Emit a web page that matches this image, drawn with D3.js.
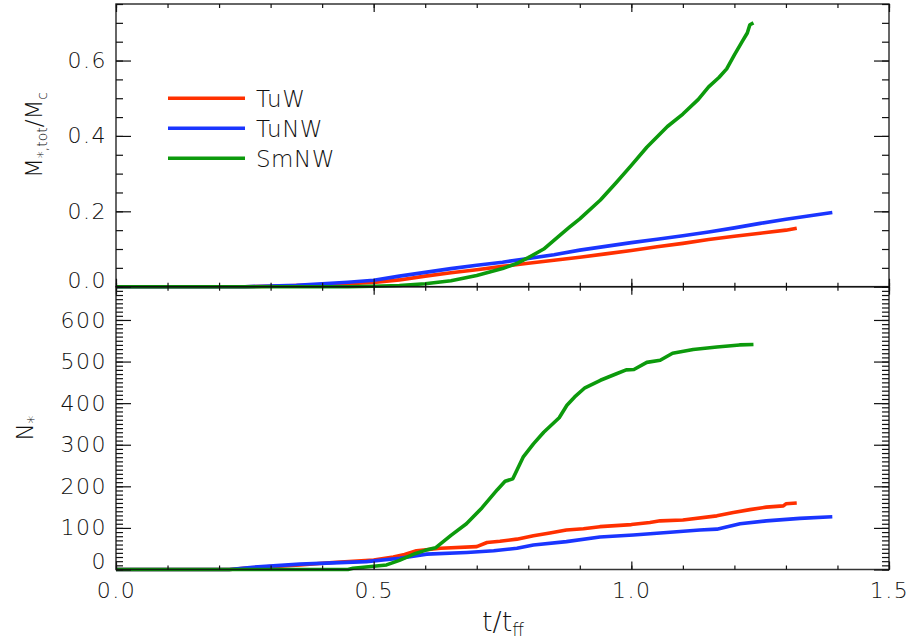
<!DOCTYPE html>
<html>
<head>
<meta charset="utf-8">
<script src="https://cdn.jsdelivr.net/npm/d3@7"></script>
<style>
  html, body { margin: 0; padding: 0; background: #fff; }
  svg { display: block; }
  text { font-family: "DejaVu Sans", sans-serif; font-weight: 200; fill: #111; }
</style>
</head>
<body>
<svg id="chart" width="911" height="640"></svg>
<script>
// Series names and colours
const seriesNames = ["TuW", "TuNW", "SmNW"];
const seriesColors = ["#ff3000", "#1a35ff", "#0c9a0c"];

// Total stellar mass fraction M*,tot/Mc against t/tff
const tuwMass = [[0,0],[0.25,0],[0.30,0.001],[0.35,0.003],[0.40,0.005],[0.45,0.008],[0.50,0.011],[0.55,0.018],[0.60,0.028],[0.65,0.037],[0.70,0.045],[0.75,0.054],[0.80,0.062],[0.85,0.070],[0.90,0.078],[0.95,0.087],[1.00,0.096],[1.05,0.106],[1.10,0.115],[1.15,0.125],[1.20,0.134],[1.25,0.142],[1.30,0.150],[1.321,0.155]];
const tunwMass = [[0,0],[0.25,0],[0.30,0.002],[0.35,0.004],[0.40,0.008],[0.45,0.012],[0.50,0.017],[0.55,0.028],[0.60,0.038],[0.65,0.048],[0.70,0.057],[0.75,0.065],[0.80,0.075],[0.85,0.085],[0.90,0.097],[0.95,0.107],[1.00,0.117],[1.05,0.126],[1.10,0.135],[1.15,0.145],[1.20,0.156],[1.25,0.168],[1.30,0.179],[1.35,0.189],[1.39,0.197]];
const smnwMass = [[0,0],[0.45,0],[0.50,0.001],[0.55,0.003],[0.60,0.008],[0.65,0.016],[0.70,0.030],[0.75,0.048],[0.78,0.063],[0.80,0.077],[0.83,0.100],[0.86,0.135],[0.88,0.158],[0.90,0.180],[0.94,0.230],[0.97,0.275],[1.00,0.322],[1.03,0.370],[1.07,0.425],[1.10,0.458],[1.13,0.497],[1.15,0.530],[1.17,0.555],[1.185,0.578],[1.20,0.615],[1.215,0.650],[1.225,0.673],[1.23,0.695],[1.237,0.700]];

// Number of stars N* against t/tff
const tuwCount = [[0,0],[0.22,0],[0.26,4],[0.30,7],[0.357,11],[0.42,17],[0.50,23],[0.538,30],[0.56,36],[0.583,45],[0.63,51],[0.70,55],[0.72,65],[0.745,68],[0.778,73],[0.81,81],[0.842,88],[0.874,95],[0.907,98],[0.939,103],[1.00,108],[1.036,113],[1.056,117],[1.10,119],[1.166,129],[1.198,137],[1.23,144],[1.262,150],[1.295,153],[1.30,158],[1.321,160]];
const tunwCount = [[0,0],[0.22,0],[0.26,5],[0.357,13],[0.486,19],[0.551,27],[0.603,37],[0.681,41],[0.733,45],[0.778,51],[0.81,59],[0.874,67],[0.939,78],[1.004,83],[1.069,89],[1.133,95],[1.166,97],[1.211,110],[1.262,117],[1.327,123],[1.39,127]];
const smnwCount = [[0,0],[0.45,0],[0.46,3],[0.50,8],[0.525,11],[0.55,22],[0.58,38],[0.60,46],[0.62,52],[0.65,82],[0.68,110],[0.71,148],[0.74,192],[0.755,212],[0.77,218],[0.79,270],[0.81,302],[0.83,330],[0.86,365],[0.875,395],[0.89,415],[0.91,437],[0.94,455],[0.97,470],[0.99,480],[1.005,481],[1.03,498],[1.056,503],[1.08,520],[1.12,529],[1.166,535],[1.21,540],[1.237,541]];

// Tick values
const xMajorTicks = [0, 0.5, 1.0, 1.5];
const xMinorTicks = d3.range(0, 15.5, 1).map(d => d / 10);
const massMajorTicks = [0, 0.2, 0.4, 0.6];
const massMinorTicks = d3.range(0, 16, 1).map(d => d * 0.05);
const countMajorTicks = [0, 100, 200, 300, 400, 500, 600];
const countMinorTicks = d3.range(0, 690, 10);

const plotLeft = 116, plotRight = 889, plotTop = 4, plotMid = 286.7, plotBottom = 569.5;
const svg = d3.select("#chart");

const x = d3.scaleLinear().domain([0, 1.5]).range([plotLeft, plotRight]);
const yMass = d3.scaleLinear().domain([0, 0.75]).range([plotMid, plotTop]);
const yCount = d3.scaleLinear().domain([0, 680]).range([plotBottom, plotMid]);

function strip(g) { g.select(".domain").remove(); g.selectAll(".tick line").attr("stroke", "#111").attr("stroke-width", 1.2); }

function drawPanel(yScale, yTop, yBottom, majors, minors, fmt, series, withXLabels, zeroLift) {
  const g = svg.append("g");
  // data lines
  const line = d3.line().x(d => x(d[0])).y(d => yScale(d[1]));
  series.forEach((s, i) => {
    g.append("path").datum(s)
      .attr("fill", "none").attr("stroke", seriesColors[i])
      .attr("stroke-width", 3.6).attr("stroke-linejoin", "round")
      .attr("d", line);
  });
  // frame
  g.append("rect").attr("x", plotLeft).attr("y", yTop).attr("width", plotRight - plotLeft).attr("height", yBottom - yTop)
    .attr("fill", "none").attr("stroke", "#111").attr("stroke-opacity", 0.85).attr("stroke-width", 1.5);
  // left axis
  g.append("g").attr("transform", `translate(${plotLeft},0)`)
    .call(d3.axisLeft(yScale).tickValues(minors).tickSizeInner(-7).tickSizeOuter(0).tickFormat(""))
    .call(strip);
  const yl = g.append("g").attr("class", "ylab").attr("transform", `translate(${plotLeft},0)`)
    .call(d3.axisLeft(yScale).tickValues(majors).tickSizeInner(-15).tickSizeOuter(0).tickPadding(9).tickFormat(fmt))
    .call(strip);
  // the lowest label sits a little above its tick, clear of the panel edge
  yl.selectAll(".tick").filter(d => d === 0).select("text").attr("y", -zeroLift);
  // right axis
  g.append("g").attr("transform", `translate(${plotRight},0)`)
    .call(d3.axisRight(yScale).tickValues(minors).tickSizeInner(-7).tickSizeOuter(0).tickFormat(""))
    .call(strip);
  g.append("g").attr("transform", `translate(${plotRight},0)`)
    .call(d3.axisRight(yScale).tickValues(majors).tickSizeInner(-15).tickSizeOuter(0).tickFormat(""))
    .call(strip);
  // top and bottom x ticks
  g.append("g").attr("transform", `translate(0,${yTop})`)
    .call(d3.axisTop(x).tickValues(xMinorTicks).tickSizeInner(-4).tickSizeOuter(0).tickFormat(""))
    .call(strip);
  g.append("g").attr("transform", `translate(0,${yTop})`)
    .call(d3.axisTop(x).tickValues(xMajorTicks).tickSizeInner(-8).tickSizeOuter(0).tickFormat(""))
    .call(strip);
  g.append("g").attr("transform", `translate(0,${yBottom})`)
    .call(d3.axisBottom(x).tickValues(xMinorTicks).tickSizeInner(-4).tickSizeOuter(0).tickFormat(""))
    .call(strip);
  g.append("g").attr("class", "xlab").attr("transform", `translate(0,${yBottom})`)
    .call(d3.axisBottom(x).tickValues(xMajorTicks).tickSizeInner(-8).tickSizeOuter(0).tickPadding(13)
      .tickFormat(withXLabels ? d3.format(".1f") : ""))
    .call(strip);
  g.selectAll(".ylab text, .xlab text").attr("font-size", 22).attr("letter-spacing", 1.5)
    .attr("font-family", null).attr("fill", "#111");
  return g;
}

drawPanel(yMass, plotTop, plotMid, massMajorTicks, massMinorTicks, d3.format(".1f"), [tuwMass, tunwMass, smnwMass], false, 6);
drawPanel(yCount, plotMid, plotBottom, countMajorTicks, countMinorTicks, d3.format("d"), [tuwCount, tunwCount, smnwCount], true, 8);

// legend
const legend = svg.append("g");
seriesNames.forEach((name, i) => {
  const ly = 98.3 + i * 30;
  legend.append("line").attr("x1", 168).attr("x2", 245).attr("y1", ly).attr("y2", ly)
    .attr("stroke", seriesColors[i]).attr("stroke-width", 3.6);
  legend.append("text").attr("x", 256).attr("y", ly).attr("dy", "0.36em")
    .attr("font-size", 23).attr("letter-spacing", 0.5).text(name);
});

// axis titles
const t1 = svg.append("text").attr("transform", "translate(42,135) rotate(-90)")
  .attr("text-anchor", "middle").attr("font-size", 23);
t1.append("tspan").text("M");
t1.append("tspan").attr("font-size", 14).attr("dy", 5).text("*,tot");
t1.append("tspan").attr("dy", -5).text("/M");
t1.append("tspan").attr("font-size", 14).attr("dy", 5).text("c");

const t2 = svg.append("text").attr("transform", "translate(33,428) rotate(-90)")
  .attr("text-anchor", "middle").attr("font-size", 23);
t2.append("tspan").text("N");
t2.append("tspan").attr("font-size", 16).attr("dy", 6).text("*");

const t3 = svg.append("text").attr("x", 503).attr("y", 631)
  .attr("text-anchor", "middle").attr("font-size", 27);
t3.append("tspan").text("t/t");
t3.append("tspan").attr("font-size", 17).attr("dy", 5).text("ff");
</script>
</body>
</html>
